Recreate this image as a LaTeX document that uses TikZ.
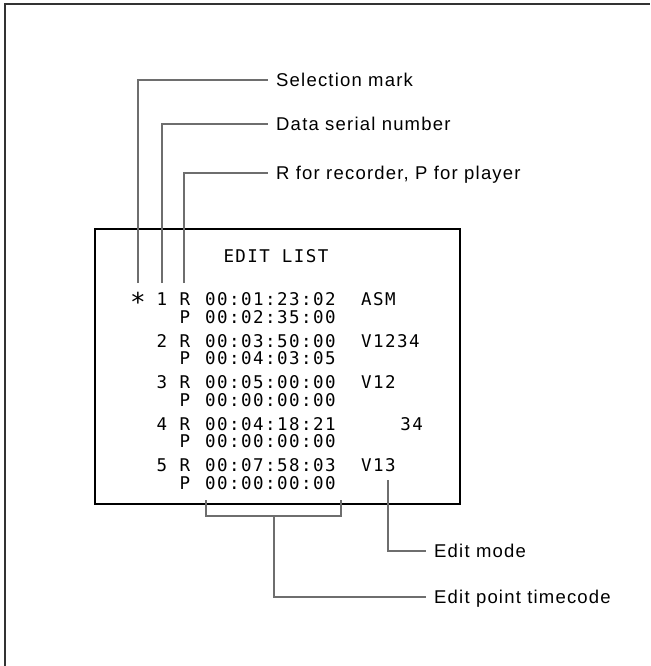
\documentclass[tikz,border=0pt]{standalone}
\usepackage{fontspec}
\setmainfont{Liberation Sans}
\newfontfamily\labelfont[LetterSpace=6.5]{Liberation Sans}
\newfontfamily\screenfont[LetterSpace=8.3]{DejaVu Sans Mono}
\usetikzlibrary{positioning}
\definecolor{leadgray}{gray}{0.43}

\begin{document}
\begin{tikzpicture}[x=1pt,y=-1pt,
    lead/.style={draw=leadgray, line width=2pt},
    callout/.style={anchor=west, inner xsep=8pt, inner ysep=0pt, text height=13.3pt, text depth=0pt,
        font=\labelfont\fontsize{18.5}{20}\selectfont},
    screentext/.style={anchor=base west, inner sep=0pt, font=\screenfont\fontsize{17.5}{19}\selectfont}]
        \useasboundingbox (0,0) rectangle (650,666);

        % outer frame (only top and left edge show)
        \draw[black!80, line width=1.5pt] (5,666) -- (5,4) -- (650,4);

        % screen
        \draw[black, line width=1.1pt] (95,229) rectangle (460,504);

        \node[screentext, anchor=base] (title) at (276,262) {EDIT LIST};

        \node[screentext, anchor=base] (mark) at (138,311) {\fontsize{26}{26}\selectfont *};

        % serial numbers
        \node[screentext, anchor=base] (N-1) at (162,305.5) {1};
        \node[screentext, anchor=base] (N-2) at (162,347) {2};
        \node[screentext, anchor=base] (N-3) at (162,388.5) {3};
        \node[screentext, anchor=base] (N-4) at (162,430) {4};
        \node[screentext, anchor=base] (N-5) at (162,471.5) {5};

        % recorder / player
        \node[screentext, anchor=base] (R-1) at (185,305.5) {R};
        \node[screentext, anchor=base] (P-1) at (185,323) {P};
        \node[screentext, anchor=base] (R-2) at (185,347) {R};
        \node[screentext, anchor=base] (P-2) at (185,364.5) {P};
        \node[screentext, anchor=base] (R-3) at (185,388.5) {R};
        \node[screentext, anchor=base] (P-3) at (185,406) {P};
        \node[screentext, anchor=base] (R-4) at (185,430) {R};
        \node[screentext, anchor=base] (P-4) at (185,447.5) {P};
        \node[screentext, anchor=base] (R-5) at (185,471.5) {R};
        \node[screentext, anchor=base] (P-5) at (185,489) {P};

        % timecodes
        \node[screentext] (TR-1) at (205,305.5) {00:01:23:02};
        \node[screentext] (TP-1) at (205,323) {00:02:35:00};
        \node[screentext] (TR-2) at (205,347) {00:03:50:00};
        \node[screentext] (TP-2) at (205,364.5) {00:04:03:05};
        \node[screentext] (TR-3) at (205,388.5) {00:05:00:00};
        \node[screentext] (TP-3) at (205,406) {00:00:00:00};
        \node[screentext] (TR-4) at (205,430) {00:04:18:21};
        \node[screentext] (TP-4) at (205,447.5) {00:00:00:00};
        \node[screentext] (TR-5) at (205,471.5) {00:07:58:03};
        \node[screentext] (TP-5) at (205,489) {00:00:00:00};

        % edit modes
        \node[screentext] (M-1) at (361,305.5) {ASM};
        \node[screentext] (M-2) at (361,347) {V1234};
        \node[screentext] (M-3) at (361,388.5) {V12};
        \node[screentext, anchor=base east] (M-4) at (423,430) {34};
        \node[screentext] (M-5) at (361,471.5) {V13};

        % callouts on top
        \node[callout] (selmark) at (268,80) {Selection mark};
        \node[callout] (serialno) at (268,124) {Data serial number};
        \node[callout] (recplay) at (268,173) {R for recorder, P for player};

        \coordinate (markfoot) at (138,283);
        \coordinate (numfoot) at (162,283);
        \coordinate (rpfoot) at (184,283);

        \draw[lead] (markfoot) |- (selmark);
        \draw[lead] (numfoot) |- (serialno);
        \draw[lead] (rpfoot) |- (recplay);

        % callouts below
        \node[callout] (editmode) at (426,551) {Edit mode};
        \node[callout] (editpoint) at (426,597) {Edit point timecode};

        \coordinate (modefoot) at (388,480);
        \coordinate (brl) at (206,500);
        \coordinate (brr) at (341,500);
        \coordinate (brmid) at (274,516);

        \draw[lead] (modefoot) |- (editmode);
        \draw[lead] (brl) |- (brmid) -| (brr);
        \draw[lead] (brmid) |- (editpoint);

    \end{tikzpicture}
\end{document}
